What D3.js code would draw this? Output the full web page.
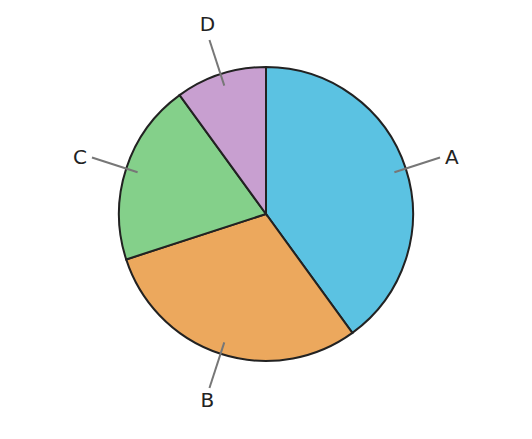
<!DOCTYPE html>
<html>
<head>
<meta charset="utf-8">
<script src="https://cdn.jsdelivr.net/npm/d3@7"></script>
<style>
  html, body { margin: 0; padding: 0; background: #fff; }
  svg { display: block; }
  .slice { stroke: #222; stroke-width: 2; }
  .leader { stroke: #777; stroke-width: 2; }
  .lbl { font-family: "DejaVu Sans", sans-serif; font-size: 20px; fill: #222; }
</style>
</head>
<body>
<svg id="chart"></svg>
<script>
// slice data, clockwise from 12 o'clock
const labels = ['A', 'B', 'C', 'D'];
const values = [40, 30, 20, 10];
const colors = ['#5bc2e2', '#eca85d', '#84d08a', '#c89fd0'];

const W = 532, H = 439;
const CX = 266, CY = 214, R = 147;
const R_IN = 135, R_OUT = 183;   // leader line from/to

const svg = d3.select('#chart').attr('width', W).attr('height', H);
const g = svg.append('g').attr('transform', `translate(${CX},${CY})`);

const pie = d3.pie().sort(null).value(d => d.v);
const arcs = pie(labels.map((l, i) => ({ label: l, v: values[i], color: colors[i] })));
const arc = d3.arc().innerRadius(0).outerRadius(R);

g.selectAll('path').data(arcs).join('path')
  .attr('class', 'slice')
  .attr('d', arc)
  .attr('fill', d => d.data.color);

// leader lines + labels
const pt = (a, r) => [r * Math.sin(a), -r * Math.cos(a)];
arcs.forEach(d => {
  const a = (d.startAngle + d.endAngle) / 2;
  const p0 = pt(a, R_IN), p1 = pt(a, R_OUT);
  g.append('line').attr('class', 'leader')
    .attr('x1', p0[0]).attr('y1', p0[1]).attr('x2', p1[0]).attr('y2', p1[1]);
  const sx = Math.sin(a), cy = -Math.cos(a);
  const t = g.append('text').attr('class', 'lbl').attr('dominant-baseline', 'central').text(d.data.label);
  if (Math.abs(sx) > Math.abs(cy)) {           // side label
    t.attr('x', p1[0] + (sx > 0 ? 5 : -5)).attr('y', p1[1])
     .attr('text-anchor', sx > 0 ? 'start' : 'end');
  } else {                                     // top / bottom label
    t.attr('x', p1[0] - 2).attr('y', p1[1] + (cy > 0 ? 12 : -16))
     .attr('text-anchor', 'middle');
  }
});
</script>
</body>
</html>
